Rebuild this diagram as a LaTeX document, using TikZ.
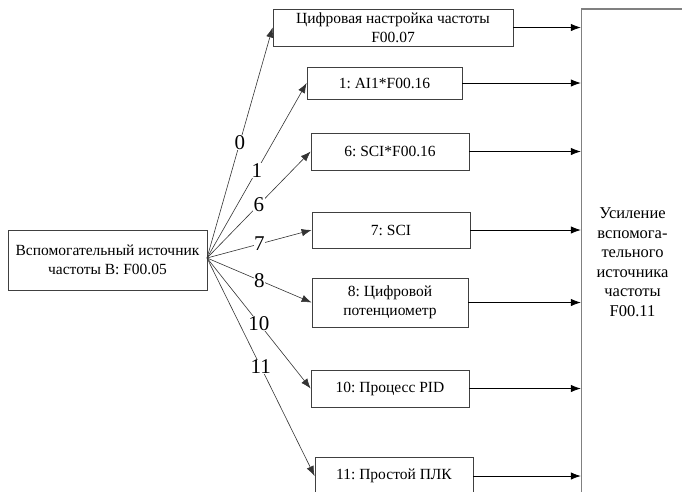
\documentclass[tikz,border=0pt]{standalone}
\usepackage{fontspec}
\setmainfont{Liberation Serif}
\usetikzlibrary{arrows.meta}
\frenchspacing
\begin{document}
\begin{tikzpicture}[x=1pt,y=-1pt,
  box/.style={draw=black!75,line width=0.8pt,fill=white,align=center,inner sep=0pt,
    font=\fontsize{15.5}{19}\selectfont},
  fan/.style={draw=black!80,line width=0.6pt,-{Latex[length=10pt,width=7.5pt]}},
  outarrow/.style={draw=black,line width=0.8pt,-{Latex[length=10pt,width=7.5pt]}},
  lbl/.style={midway,fill=white,inner sep=0.5pt,font=\fontsize{21}{21}\selectfont}]
\useasboundingbox (0,0) rectangle (682,491);
\clip (0,0) rectangle (682,491);
\node[box,minimum width=102,minimum height=506,draw=black!50,line width=1.4pt,
  font=\fontsize{16.5}{19.5}\selectfont] (big) at (632.5,262)
  {Усиление\\вспомога-\\тельного\\источника\\частоты\\F00.11};
\node[box,minimum width=199,minimum height=60] (src) at (107.5,260)
  {Вспомогательный источник\\частоты B: F00.05};
\node[box,minimum width=240,minimum height=37] (b0) at (393,27.5)
  {Цифровая настройка частоты\\F00.07};
\node[box,minimum width=155,minimum height=32] (b1) at (384.5,83) {1: AI1*F00.16};
\node[box,minimum width=158,minimum height=37] (b6) at (390,151.5) {6: SCI*F00.16};
\node[box,minimum width=158,minimum height=36] (b7) at (391,230) {7: SCI};
\node[box,minimum width=156,minimum height=49] (b8) at (390,302.5)
  {8: Цифровой\\потенциометр};
\node[box,minimum width=158,minimum height=37] (b10) at (390,388.5) {10: Процесс PID};
\node[box,minimum width=158,minimum height=38] (b11) at (394,476) {11: Простой ПЛК};
\coordinate (o) at (207,258);
\draw[fan] (o) -- (b0.west) node[lbl] {0};
\draw[fan] (o) -- (b1.west) node[lbl] {1};
\draw[fan] (o) -- (b6.west) node[lbl] {6};
\draw[fan] (o) -- (b7.west) node[lbl] {7};
\draw[fan] (o) -- (b8.west) node[lbl] {8};
\draw[fan] (o) -- (b10.west) node[lbl] {10};
\draw[fan] (o) -- (b11.west) node[lbl] {11};
\foreach \b in {b0,b1,b6,b7,b8,b10,b11}
  \draw[outarrow] (\b.east) -- (\b.east -| big.west);
\end{tikzpicture}
\end{document}
